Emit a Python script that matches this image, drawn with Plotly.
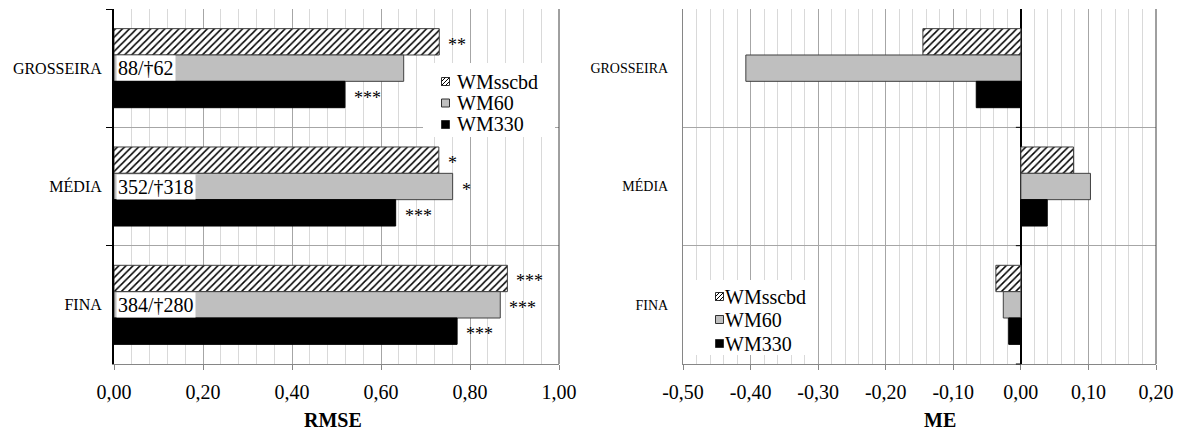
import plotly.graph_objects as go

# ---- data -------------------------------------------------------------
categories = ["GROSSEIRA", "MÉDIA", "FINA"]
series_names = ["WMsscbd", "WM60", "WM330"]

rmse_wmsscbd = [0.731, 0.730, 0.884]
rmse_wm60 = [0.651, 0.761, 0.868]
rmse_wm330 = [0.519, 0.633, 0.771]

me_wmsscbd = [-0.145, 0.078, -0.037]
me_wm60 = [-0.407, 0.103, -0.026]
me_wm330 = [-0.066, 0.039, -0.018]

# significance markers next to the RMSE bars
sig_wmsscbd = ["**", "*", "***"]
sig_wm60 = ["", "*", "***"]
sig_wm330 = ["***", "***", "***"]

# sample sizes printed at the base of the WM60 bars
sample_counts = ["88/†62", "352/†318", "384/†280"]

rmse_ticks = [0.0, 0.2, 0.4, 0.6, 0.8, 1.0]
rmse_tick_labels = ["0,00", "0,20", "0,40", "0,60", "0,80", "1,00"]
me_ticks = [-0.5, -0.4, -0.3, -0.2, -0.1, 0.0, 0.1, 0.2]
me_tick_labels = ["-0,50", "-0,40", "-0,30", "-0,20", "-0,10", "0,00", "0,10", "0,20"]

# ---- layout constants (pixels) ---------------------------------------
W, H = 1183, 432
FONT = "'Liberation Serif', 'Times New Roman', serif"
LEFT_X = (114, 559)
RIGHT_X = (683, 1156)
PLOT_Y = (9, 364)
BARGAP = 0.332

GRID_MAJOR = "#a6a6a6"
GRID_MINOR = "#d9d9d9"
AXIS_GRAY = "#868686"


def fx(px):
    return px / W


def fy(py):
    return 1 - py / H


styles = [
    dict(color="white", pattern=dict(shape="/", fgcolor="black", bgcolor="white",
                                     size=5, solidity=0.3, fillmode="replace"),
         line=dict(color="#404040", width=1)),
    dict(color="#bfbfbf", line=dict(color="#404040", width=1)),
    dict(color="black", line=dict(color="black", width=1)),
]

rmse_series = [rmse_wmsscbd, rmse_wm60, rmse_wm330]
me_series = [me_wmsscbd, me_wm60, me_wm330]
sig_series = [sig_wmsscbd, sig_wm60, sig_wm330]

fig = go.Figure()

for name, vals, st in zip(series_names, rmse_series, styles):
    fig.add_trace(go.Bar(
        x=vals, y=categories, orientation="h", name=name,
        marker=st, xaxis="x", yaxis="y", showlegend=False,
    ))

for name, vals, st in zip(series_names, me_series, styles):
    fig.add_trace(go.Bar(
        x=vals, y=categories, orientation="h", name=name,
        marker=st, xaxis="x2", yaxis="y2", showlegend=False,
    ))

# ---- annotations on the RMSE panel -----------------------------------
cat_px = (PLOT_Y[1] - PLOT_Y[0]) / len(categories)
bar_px = cat_px * (1 - BARGAP) / len(series_names)

annotations = []
for i, (vals, sigs) in enumerate(zip(rmse_series, sig_series)):
    for cat, v, s in zip(categories, vals, sigs):
        if not s:
            continue
        annotations.append(dict(
            x=v, y=cat, xref="x", yref="y", text=s, showarrow=False,
            xanchor="left", yanchor="middle", xshift=7,
            yshift=(1 - i) * bar_px - 3,
            font=dict(family=FONT, size=18, color="black"),
        ))

for cat, txt in zip(categories, sample_counts):
    annotations.append(dict(
        x=0, y=cat, xref="x", yref="y", text=txt, showarrow=False,
        xanchor="left", yanchor="middle", xshift=2,
        bgcolor="white", borderpad=1,
        font=dict(family=FONT, size=20, color="black"),
    ))

# axis titles
annotations.append(dict(x=fx(333), y=fy(420), xref="paper", yref="paper",
                        text="<b>RMSE</b>", showarrow=False,
                        xanchor="center", yanchor="middle",
                        font=dict(family=FONT, size=20, color="black")))
annotations.append(dict(x=fx(940), y=fy(420), xref="paper", yref="paper",
                        text="<b>ME</b>", showarrow=False,
                        xanchor="center", yanchor="middle",
                        font=dict(family=FONT, size=20, color="black")))

shapes = []

# right-hand borders of both plot areas
for xr in (LEFT_X[1], RIGHT_X[1]):
    shapes.append(dict(type="line", xref="paper", yref="paper",
                       x0=fx(xr), x1=fx(xr), y0=fy(PLOT_Y[0]), y1=fy(PLOT_Y[1]),
                       line=dict(color="#404040", width=1), layer="above"))

# category tick marks on the ME zero line
for k in range(1, len(categories) + 1):
    py = PLOT_Y[0] + k * cat_px
    shapes.append(dict(type="line", xref="x2", yref="paper",
                       xsizemode="pixel", xanchor=0, x0=-5, x1=0,
                       y0=fy(py), y1=fy(py),
                       line=dict(color="black", width=1), layer="above"))


def add_legend(box, sym_x, text_x, rows, sym=8):
    """Draw a legend: white box, swatches and labels."""
    bx0, by0, bx1, by1 = box
    shapes.append(dict(type="rect", xref="paper", yref="paper",
                       x0=fx(bx0), x1=fx(bx1), y0=fy(by0), y1=fy(by1),
                       fillcolor="white", line=dict(width=0), layer="above"))
    fills = ["white", "#bfbfbf", "black"]
    for k, (name, ry) in enumerate(zip(series_names, rows)):
        x0, x1 = sym_x, sym_x + sym
        t, b = ry - sym / 2, ry + sym / 2
        shapes.append(dict(type="rect", xref="paper", yref="paper",
                           x0=fx(x0), x1=fx(x1), y0=fy(b), y1=fy(t),
                           fillcolor=fills[k],
                           line=dict(color="#303030", width=1), layer="above"))
        if k == 0:
            h = sym / 2
            segs = [((x0, b), (x1, t)),
                    ((x0, t + h), (x0 + h, t)),
                    ((x1 - h, b), (x1, b - h))]
            for (ax, ay), (bx, by) in segs:
                shapes.append(dict(type="line", xref="paper", yref="paper",
                                   x0=fx(ax), y0=fy(ay), x1=fx(bx), y1=fy(by),
                                   line=dict(color="black", width=1), layer="above"))
        annotations.append(dict(x=fx(text_x), y=fy(ry), xref="paper", yref="paper",
                                text=name, showarrow=False,
                                xanchor="left", yanchor="middle",
                                font=dict(family=FONT, size=20, color="black")))


add_legend((423, 63, 555, 137), 441.5, 455, [81.5, 103, 124.5])
add_legend((690, 280, 818, 355), 715.5, 723, [296.5, 319.5, 343.5])

common_x = dict(
    showline=True, linecolor=AXIS_GRAY, linewidth=1,
    ticks="outside", ticklen=5, tickcolor=AXIS_GRAY,
    showgrid=True, gridcolor=GRID_MAJOR, gridwidth=1,
    tickmode="array", automargin=False,
    tickfont=dict(family=FONT, size=20, color="black"),
    ticklabelstandoff=5,
)

fig.update_layout(
    width=W, height=H, autosize=False,
    margin=dict(l=0, r=0, t=0, b=0, pad=0, autoexpand=False),
    paper_bgcolor="white", plot_bgcolor="white",
    barmode="group", bargap=BARGAP, bargroupgap=0,
    showlegend=False,
    xaxis=dict(
        domain=[fx(LEFT_X[0]), fx(LEFT_X[1])], anchor="y",
        range=[0, 1], tickvals=rmse_ticks, ticktext=rmse_tick_labels,
        zeroline=False,
        minor=dict(tickmode="linear", tick0=0, dtick=0.04, showgrid=True,
                   gridcolor=GRID_MINOR, gridwidth=1, ticks=""),
        **common_x,
    ),
    yaxis=dict(
        domain=[fy(PLOT_Y[1]), fy(PLOT_Y[0])], anchor="x",
        categoryorder="array", categoryarray=categories, autorange="reversed",
        tickson="boundaries", showgrid=True, gridcolor=GRID_MAJOR,
        showline=True, linecolor="black", linewidth=2,
        ticks="outside", ticklen=6, tickcolor="black", tickwidth=1,
        tickfont=dict(family=FONT, size=16, color="black"),
        ticklabelstandoff=7, automargin=False,
    ),
    xaxis2=dict(
        domain=[fx(RIGHT_X[0]), fx(RIGHT_X[1])], anchor="y2",
        range=[-0.5, 0.2], tickvals=me_ticks, ticktext=me_tick_labels,
        zeroline=True, zerolinecolor="black", zerolinewidth=2,
        minor=dict(tickmode="linear", tick0=0, dtick=0.02, showgrid=True,
                   gridcolor=GRID_MINOR, gridwidth=1, ticks=""),
        **common_x,
    ),
    yaxis2=dict(
        domain=[fy(PLOT_Y[1]), fy(PLOT_Y[0])], anchor="x2",
        categoryorder="array", categoryarray=categories, autorange="reversed",
        tickson="boundaries", showgrid=True, gridcolor=GRID_MAJOR,
        showline=True, linecolor=AXIS_GRAY, linewidth=1,
        ticks="",
        tickfont=dict(family=FONT, size=14, color="black"),
        ticklabelstandoff=11, automargin=False,
    ),
    annotations=annotations,
    shapes=shapes,
)

fig.write_html("out.html")
